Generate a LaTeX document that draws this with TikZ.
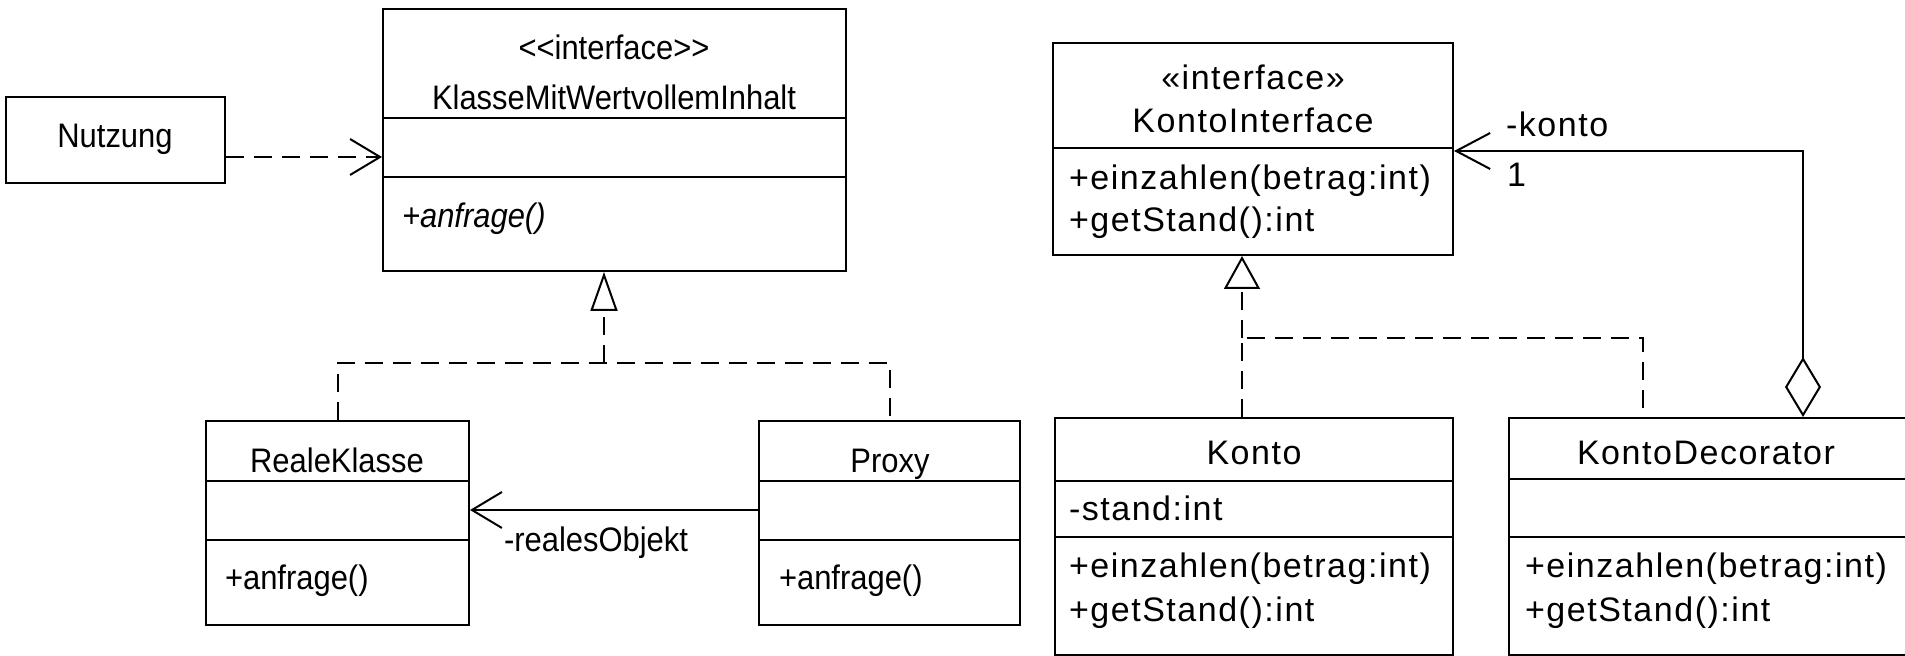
\documentclass[tikz,border=0pt]{standalone}
\usepackage{fontspec}
\setmainfont{Liberation Sans}
\newfontfamily\linksfont[FakeStretch=0.91]{Liberation Sans}
\newfontfamily\rechtsfont[LetterSpace=4.5]{Liberation Sans}
\usetikzlibrary{arrows.meta,fit,positioning}

\begin{document}
\begin{tikzpicture}[x=0.5pt,y=-0.5pt,line width=1pt,
    box/.style={draw,inner sep=0pt},
    ltxt/.style={inner sep=0pt,font=\linksfont\fontsize{17}{20}\selectfont},
    rtxt/.style={inner sep=0pt,font=\rechtsfont\fontsize{17}{20}\selectfont},
    strich/.style={dash pattern=on 9pt off 5pt},
    offen/.style={-{Straight Barb[length=15pt,width=18pt]}}]
    \useasboundingbox (0,0) rectangle (1905,656);
    % Klassen links (Proxy)
    \node[box,fit={(6,97) (225,183)}] (nutzung) {};
    \node[box,fit={(383,9) (846,271)}] (wertvoll) {};
    \node[box,fit={(206,421) (469,625)}] (reale) {};
    \node[box,fit={(759,421) (1020,625)}] (proxy) {};
    % Klassen rechts (Decorator)
    \node[box,fit={(1053,43) (1453,255)}] (kontoif) {};
    \node[box,fit={(1055,418) (1453,655)}] (konto) {};
    \node[box,fit={(1509,418) (1915,655)}] (deko) {};
    % Trennlinien
    \foreach \b/\y in {wertvoll/118,wertvoll/177,reale/481,reale/540,proxy/481,proxy/540,
                       kontoif/148,konto/481,konto/537,deko/479,deko/537}
      \draw (\b.west |- 0,\y) -- (\b.east |- 0,\y);
    % Texte links
    \node[ltxt,anchor=base] (nutzungname) at (115,148) {Nutzung};
    \node[ltxt,anchor=base] (stereolinks) at (614,60) {<{}<interface>{}>};
    \node[ltxt,anchor=base] (wertvollname) at (614,110) {KlasseMitWertvollemInhalt};
    \node[ltxt,anchor=base west] (wertvollop) at (401,228) {\itshape +anfrage()};
    \node[ltxt,anchor=base] (realename) at (337,473) {RealeKlasse};
    \node[ltxt,anchor=base west] (realeop) at (224,590) {+anfrage()};
    \node[ltxt,anchor=base] (proxyname) at (890,473) {Proxy};
    \node[ltxt,anchor=base west] (proxyop) at (778,590) {+anfrage()};
    % Texte rechts
    \node[rtxt,anchor=base] (stereorechts) at (1253,90) {«interface»};
    \node[rtxt,anchor=base] (kontoifname) at (1253,133) {KontoInterface};
    \node[rtxt,anchor=base west] (kontoifop1) at (1068,190) {+einzahlen(betrag:int)};
    \node[rtxt,anchor=base west] (kontoifop2) at (1068,232) {+getStand():int};
    \node[rtxt,anchor=base] (kontoname) at (1254,465) {Konto};
    \node[rtxt,anchor=base west] (kontoattr) at (1068,521) {-stand:int};
    \node[rtxt,anchor=base west] (kontoop1) at (1068,578) {+einzahlen(betrag:int)};
    \node[rtxt,anchor=base west] (kontoop2) at (1068,622) {+getStand():int};
    \node[rtxt,anchor=base] (dekoname) at (1706,465) {KontoDecorator};
    \node[rtxt,anchor=base west] (dekoop1) at (1524,578) {+einzahlen(betrag:int)};
    \node[rtxt,anchor=base west] (dekoop2) at (1524,622) {+getStand():int};
    % Abhaengigkeit
    \draw[strich,offen] (nutzung.east |- 0,157) -- (wertvoll.west |- 0,157);
    % Realisierung links
    \coordinate (knotenL) at (604,363);
    \draw[strich] (reale.north) |- (knotenL) -| (proxy.north);
    \draw[strich,-{Triangle[open,length=19.5pt,width=13.5pt]}] (knotenL) -- (knotenL |- wertvoll.south);
    % Assoziation
    \draw[offen] (proxy.west |- 0,510) -- (reale.east |- 0,510);
    \node[ltxt,anchor=base west] (realesobj) at (503,552) {-realesObjekt};
    % Realisierung rechts
    \coordinate (knotenR) at (1242,338);
    \draw[strich] (konto.north -| knotenR) -- (knotenR) -| (deko.north -| 1643,0);
    \draw[strich,-{Triangle[open,length=16.5pt,width=18pt]}] (knotenR) -- (knotenR |- kontoif.south);
    % Aggregation
    \coordinate (eckeR) at (1803,151);
    \draw[{Diamond[open,length=30pt,width=18pt]}-{Straight Barb[length=17pt,width=18pt]}]
      (deko.north -| eckeR) |- (kontoif.east |- eckeR);
    \node[rtxt,anchor=base west] (kontorolle) at (1505,137) {-konto};
    \node[rtxt,anchor=base west] (kontomult) at (1506,187) {1};
  \end{tikzpicture}
\end{document}
